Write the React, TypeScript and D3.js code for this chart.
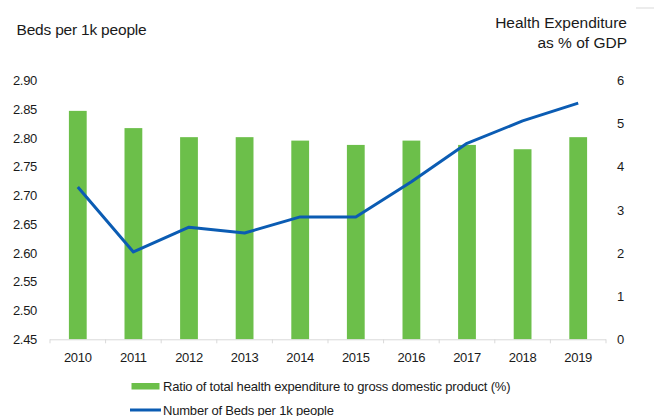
import React from "react";
import * as d3 from "d3";

const years = ["2010", "2011", "2012", "2013", "2014", "2015", "2016", "2017", "2018", "2019"];
const healthExpenditure = [5.3, 4.9, 4.69, 4.69, 4.61, 4.51, 4.61, 4.51, 4.41, 4.69];
const bedsPer1k = [2.715, 2.602, 2.645, 2.635, 2.663, 2.663, 2.724, 2.791, 2.83, 2.861];
const leftTicks = [2.45, 2.5, 2.55, 2.6, 2.65, 2.7, 2.75, 2.8, 2.85, 2.9];
const rightTicks = [0, 1, 2, 3, 4, 5, 6];

const FONT = "'Liberation Sans', Arial, sans-serif";
const GREEN = "#6cbf4a";
const BLUE = "#0b5cb3";

export default function App() {
  const W = 654;
  const H = 416;
  const x0 = 50, x1 = 606, yTop = 80.7, yBot = 339.3;

  const x = d3.scaleBand<string>().domain(years).range([x0, x1]).paddingInner(0.68).paddingOuter(0.34);
  const yL = d3.scaleLinear().domain([2.45, 2.9]).range([yBot, yTop]);
  const yR = d3.scaleLinear().domain([0, 6]).range([yBot, yTop]);
  const band = (x1 - x0) / years.length;

  const line = d3
    .line<number>()
    .x((_, i) => (x(years[i]) as number) + x.bandwidth() / 2)
    .y((d) => yL(d));

  return (
    <svg width={W} height={H} style={{ position: "absolute", left: 0, top: 0, background: "#fff" }}>
      <line x1={636} x2={654} y1={8} y2={8} stroke="#d9d9d9" strokeWidth={1} />
      <text x={16.5} y={35} fontFamily={FONT} fontSize={15.5} fill="#1a1a1a" letterSpacing={-0.2}>
        Beds per 1k people
      </text>
      <text x={627} y={28} textAnchor="end" fontFamily={FONT} fontSize={15.5} fill="#1a1a1a" letterSpacing={0}>
        Health Expenditure
      </text>
      <text x={627} y={48} textAnchor="end" fontFamily={FONT} fontSize={15.5} fill="#1a1a1a" letterSpacing={0}>
        as % of GDP
      </text>

      {leftTicks.map((t) => (
        <text key={t} x={37} y={yL(t)} dy="0.35em" textAnchor="end" fontFamily={FONT} fontSize={13} fill="#1a1a1a" letterSpacing={-0.3}>
          {t.toFixed(2)}
        </text>
      ))}
      {rightTicks.map((t) => (
        <text key={t} x={617} y={yR(t)} dy="0.35em" textAnchor="start" fontFamily={FONT} fontSize={13} fill="#1a1a1a">
          {t}
        </text>
      ))}

      {years.map((yr, i) => (
        <rect
          key={yr}
          x={x(yr) as number}
          y={yR(healthExpenditure[i])}
          width={x.bandwidth()}
          height={yBot - yR(healthExpenditure[i])}
          fill={GREEN}
        />
      ))}

      <line x1={x0} x2={x1} y1={yBot + 0.5} y2={yBot + 0.5} stroke="#d9d9d9" strokeWidth={1} />
      {d3.range(years.length + 1).map((i) => (
        <line key={i} x1={x0 + i * band} x2={x0 + i * band} y1={yBot} y2={yBot + 4} stroke="#d9d9d9" strokeWidth={1} />
      ))}
      {years.map((yr) => (
        <text key={yr} x={(x(yr) as number) + x.bandwidth() / 2} y={357} dy="0.35em" textAnchor="middle" fontFamily={FONT} fontSize={13} fill="#1a1a1a" letterSpacing={-0.3}>
          {yr}
        </text>
      ))}

      <path d={line(bedsPer1k) || ""} fill="none" stroke={BLUE} strokeWidth={3} strokeLinejoin="round" />

      <rect x={131.5} y={383} width={28} height={6.5} fill={GREEN} />
      <text x={163} y={386.5} dy="0.35em" fontFamily={FONT} fontSize={13} fill="#1a1a1a" letterSpacing={-0.2}>
        Ratio of total health expenditure to gross domestic product (%)
      </text>
      <line x1={130} x2={161} y1={410} y2={410} stroke={BLUE} strokeWidth={3} />
      <text x={163} y={410} dy="0.35em" fontFamily={FONT} fontSize={13} fill="#1a1a1a" letterSpacing={-0.2}>
        Number of Beds per 1k people
      </text>
    </svg>
  );
}
